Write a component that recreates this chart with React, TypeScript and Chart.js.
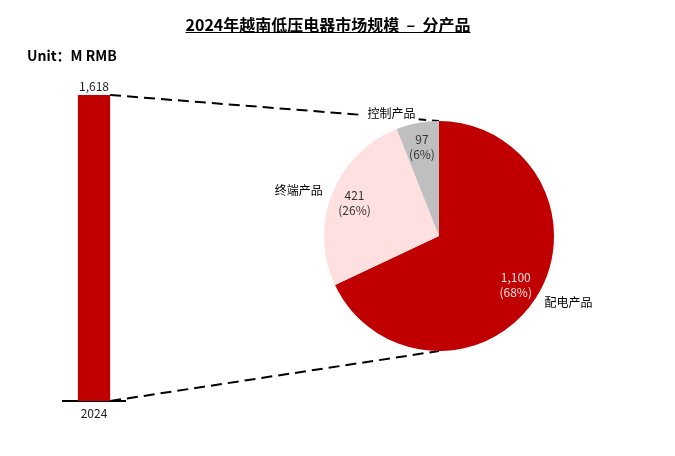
import React, { useEffect, useRef } from 'react';
import { Chart, registerables } from 'chart.js';
Chart.register(...registerables);

const years = ['2024'];
const totals = [1618];
const segments = ['配电产品', '终端产品', '控制产品'];
const segmentValues = [1100, 421, 97];
const segmentShares = ['68%', '26%', '6%'];
const titleText = '2024年越南低压电器市场规模  –  分产品';
const unitText = 'Unit：M RMB';

const RED = '#C00000';
const PINK = '#FFE0E1';
const GRAY = '#BFBFBF';
const FONT = '"Noto Sans CJK SC", "Noto Sans", sans-serif';
const W = 675;
const H = 456;

const fmt = (v: number) => v.toLocaleString('en-US');

export default function App() {
  const barCanvas = useRef<HTMLCanvasElement>(null);
  const pieCanvas = useRef<HTMLCanvasElement>(null);

  useEffect(() => {
    if (!barCanvas.current || !pieCanvas.current) return;

    const barLabelPlugin = {
      id: 'barLabel',
      afterDatasetsDraw(chart: any) {
        const ctx = chart.ctx;
        const meta = chart.getDatasetMeta(0);
        ctx.save();
        ctx.font = `12px ${FONT}`;
        ctx.fillStyle = '#222';
        ctx.textAlign = 'center';
        ctx.textBaseline = 'bottom';
        meta.data.forEach((el: any, i: number) => {
          ctx.fillText(fmt(totals[i]), el.x, el.y - 3);
        });
        ctx.restore();
      },
    };

    const barChart = new Chart(barCanvas.current, {
      type: 'bar',
      data: {
        labels: years,
        datasets: [
          {
            data: totals,
            backgroundColor: RED,
            borderWidth: 0,
            categoryPercentage: 1,
            barPercentage: 0.52,
          },
        ],
      },
      options: {
        responsive: false,
        animation: false,
        devicePixelRatio: 1,
        events: [],
        layout: { padding: { left: 63, right: 550, top: 95, bottom: 30.6 } },
        plugins: { legend: { display: false }, tooltip: { enabled: false } },
        scales: {
          x: {
            grid: { display: false, drawTicks: false },
            border: { display: true, color: '#000', width: 2 },
            ticks: { color: '#222', padding: 5, font: { size: 12, family: FONT } },
          },
          y: { display: false, min: 0, max: totals[0] },
        },
      },
      plugins: [barLabelPlugin],
    });

    const pieDecorPlugin = {
      id: 'pieDecor',
      beforeDatasetsDraw(chart: any) {
        const ctx = chart.ctx;
        const barEl: any = barChart.getDatasetMeta(0).data[0];
        const arc: any = chart.getDatasetMeta(0).data[0];
        if (!barEl || !arc) return;
        const right = barEl.x + barEl.width / 2;
        ctx.save();
        ctx.setLineDash([11, 6]);
        ctx.lineWidth = 2;
        ctx.strokeStyle = '#000';
        ctx.beginPath();
        ctx.moveTo(right, barEl.y);
        ctx.lineTo(arc.x, arc.y - arc.outerRadius);
        ctx.moveTo(right, barEl.base);
        ctx.lineTo(arc.x, arc.y + arc.outerRadius);
        ctx.stroke();
        ctx.restore();
      },
      afterDatasetsDraw(chart: any) {
        const ctx = chart.ctx;
        const meta = chart.getDatasetMeta(0);
        ctx.save();
        meta.data.forEach((arc: any, i: number) => {
          const mid = (arc.startAngle + arc.endAngle) / 2;
          const r = arc.outerRadius;
          const c = Math.cos(mid);
          const s = Math.sin(mid);
          // inner value label
          const ix = arc.x + c * r * 0.79;
          const iy = arc.y + s * r * 0.79;
          ctx.font = `12px ${FONT}`;
          ctx.textAlign = 'center';
          ctx.textBaseline = 'middle';
          ctx.fillStyle = i === 0 ? '#FFE0E0' : '#333';
          ctx.fillText(fmt(segmentValues[i]), ix, iy - 7.5);
          ctx.fillText(`(${segmentShares[i]})`, ix, iy + 7.5);
          // outer category label
          const ox = arc.x + c * (r + 10);
          const oy = arc.y + s * (r + 10);
          ctx.font = `12px ${FONT}`;
          const tw = ctx.measureText(segments[i]).width;
          const left = c >= 0 ? ox : ox - tw;
          ctx.fillStyle = '#fff';
          ctx.fillRect(left - 5, oy - 8, tw + 8, 16);
          ctx.fillStyle = '#000';
          ctx.textAlign = 'left';
          ctx.fillText(segments[i], left, oy);
        });
        ctx.restore();
      },
    };

    const pieChart = new Chart(pieCanvas.current, {
      type: 'pie',
      data: {
        labels: segments,
        datasets: [
          {
            data: segmentValues,
            backgroundColor: [RED, PINK, GRAY],
            borderWidth: 0,
          },
        ],
      },
      options: {
        responsive: false,
        animation: false,
        devicePixelRatio: 1,
        events: [],
        layout: { padding: { left: 324, right: 121, top: 121, bottom: 105 } },
        plugins: { legend: { display: false }, tooltip: { enabled: false } },
      },
      plugins: [pieDecorPlugin],
    });

    return () => {
      pieChart.destroy();
      barChart.destroy();
    };
  }, []);

  return (
    <div
      style={{
        position: 'absolute',
        left: 0,
        top: 0,
        width: W,
        height: H,
        background: '#fff',
        overflow: 'hidden',
      }}
    >
      <canvas
        ref={barCanvas}
        width={W}
        height={H}
        style={{ position: 'absolute', left: 0, top: 0, width: W, height: H }}
      />
      <canvas
        ref={pieCanvas}
        width={W}
        height={H}
        style={{ position: 'absolute', left: 0, top: 0, width: W, height: H }}
      />
      <div
        style={{
          position: 'absolute',
          left: 328,
          top: 13,
          transform: 'translateX(-50%)',
          whiteSpace: 'pre',
          fontFamily: FONT,
          fontWeight: 700,
          fontSize: 16,
          lineHeight: '23px',
          textDecoration: 'underline',
          color: '#000',
        }}
      >
        {titleText}
      </div>
      <div
        style={{
          position: 'absolute',
          left: 27,
          top: 45,
          whiteSpace: 'pre',
          fontFamily: FONT,
          fontWeight: 700,
          fontSize: 14,
          lineHeight: '20px',
          color: '#000',
        }}
      >
        {unitText}
      </div>
    </div>
  );
}
